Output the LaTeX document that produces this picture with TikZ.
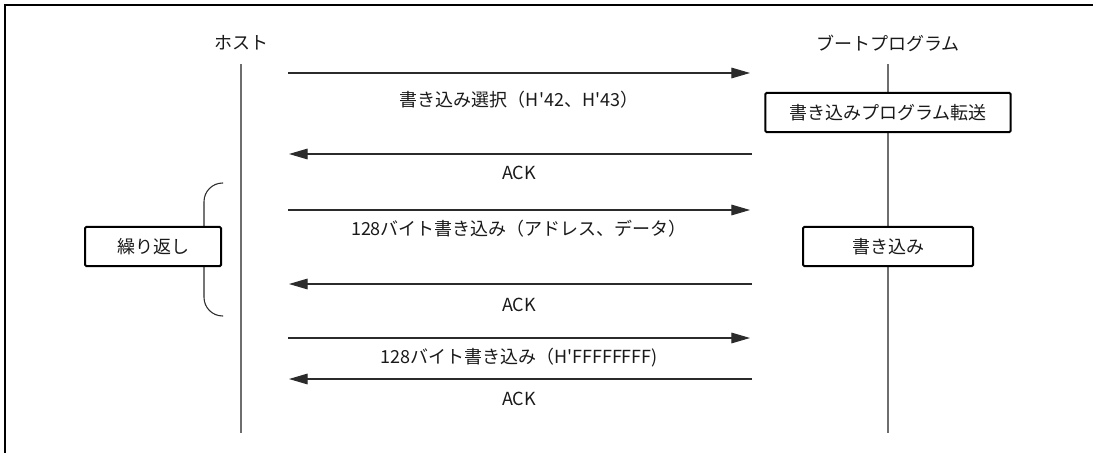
\documentclass[tikz,border=0pt]{standalone}
\usepackage{fontspec}
\newfontfamily\jpfont{Noto Sans CJK JP}
\usepackage{xcolor}
\usetikzlibrary{arrows.meta, positioning}

\definecolor{inkgray}{HTML}{1A1A1A}
\definecolor{linegray}{HTML}{2B2B2B}
\definecolor{lifegray}{HTML}{6E6E6E}

\begin{document}
\begin{tikzpicture}[
    x=0.75pt, y=-0.75pt,
    every node/.style={text=inkgray, font=\jpfont\fontsize{13.5}{16}\selectfont},
    procbox/.style={
      rectangle, draw=black, fill=white, line width=1.5pt,
      rounded corners=1pt, minimum height=29.5pt, inner sep=0pt
    },
    lifeline/.style={lifegray, line width=1.4pt},
    msg/.style={-{Triangle[length=14pt, width=8pt]}, linegray, line width=0.8pt},
  ]
  \useasboundingbox (0,0) rectangle (1093,453);

  % frame (top and left only)
  \draw[black, line width=2pt] (5,453) -- (5,5) -- (1093,5);

  % lifelines
  \node (host) at (241,43) {ホスト};
  \node (boot) at (888,43) {ブートプログラム};
  \coordinate (hostend) at (241,433);
  \coordinate (bootend) at (888,433);
  \draw[lifeline] (241,64) -- (hostend);
  \draw[lifeline] (888,64) -- (bootend);

  % brace of the loop
  \coordinate (bracetop) at (223,183);
  \coordinate (bracebot) at (223,316);
  \draw[linegray, line width=0.8pt, rounded corners=14pt]
    (bracetop) -- (204,183) -- (204,316) -- (bracebot);

  % processing boxes
  \node[procbox, minimum width=184pt] (xfer) at (888,112.5) {書き込みプログラム転送};
  \node[procbox, minimum width=127.5pt] (write) at (888,246.5) {書き込み};
  \node[procbox, minimum width=102pt] (repeat) at (153,246.5) {繰り返し};

  % message ends
  \coordinate (h1) at (288,73);  \coordinate (b1) at (750,73);
  \coordinate (h2) at (289,154); \coordinate (b2) at (752,154);
  \coordinate (h3) at (288,210); \coordinate (b3) at (750,210);
  \coordinate (h4) at (289,284); \coordinate (b4) at (752,284);
  \coordinate (h5) at (288,338); \coordinate (b5) at (750,338);
  \coordinate (h6) at (289,379); \coordinate (b6) at (752,379);

  % messages
  \draw[msg] (h1) -- (b1);
  \draw[msg] (b2) -- (h2);
  \draw[msg] (h3) -- (b3);
  \draw[msg] (b4) -- (h4);
  \draw[msg] (h5) -- (b5);
  \draw[msg] (b6) -- (h6);

  % message labels
  \node (sel)  at (519,100) {書き込み選択（H'42、H'43）};
  \node (ack1) at (519,173) {ACK};
  \node (data) at (519,229) {128バイト書き込み（アドレス、データ）};
  \node (ack2) at (519,305) {ACK};
  \node (last) at (519,358) {128バイト書き込み（H'FFFFFFFF)};
  \node (ack3) at (519,399) {ACK};
\end{tikzpicture}
\end{document}
